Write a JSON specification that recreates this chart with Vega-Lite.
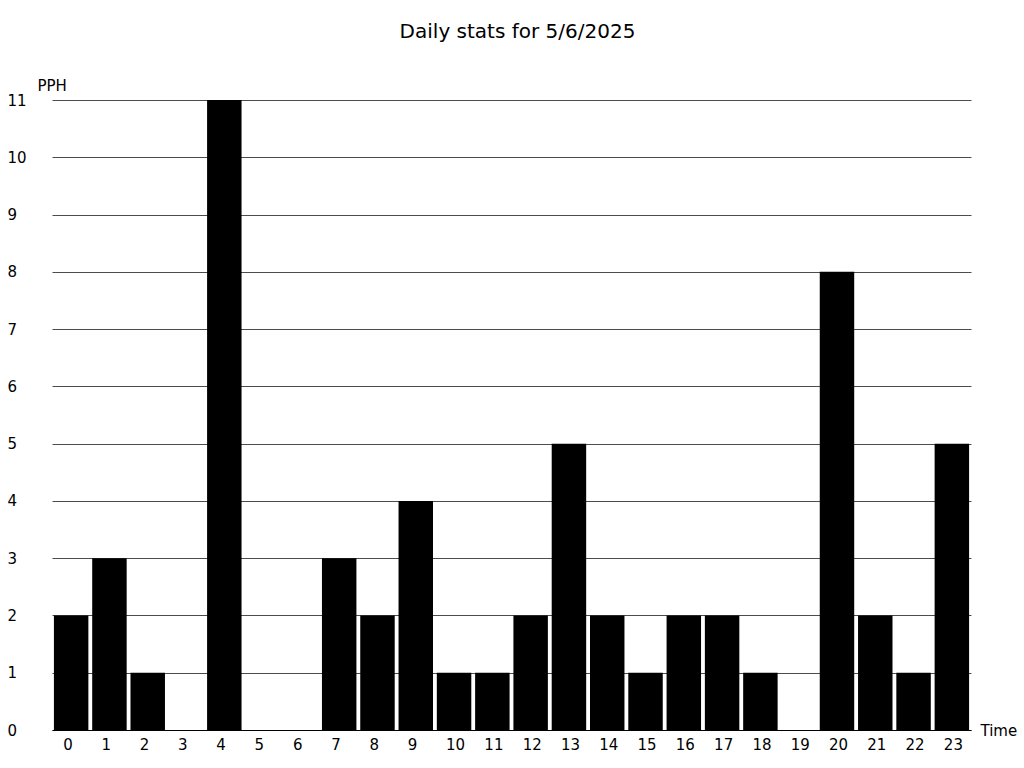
{
  "$schema": "https://vega.github.io/schema/vega-lite/v6.json",
  "width": 919,
  "height": 630,
  "autosize": "none",
  "padding": {"left": 52, "top": 100, "right": 53, "bottom": 38},
  "background": "white",
  "title": {
    "text": "Daily stats for 5/6/2025",
    "font": "DejaVu Sans",
    "fontSize": 20,
    "fontWeight": "normal",
    "color": "black",
    "anchor": "middle",
    "frame": "group",
    "baseline": "middle",
    "offset": 26,
    "dx": 6
  },
  "config": {
    "view": {"stroke": null},
    "font": "DejaVu Sans"
  },
  "data": {
    "values": [
      {"hour": "0", "pph": 2}, {"hour": "1", "pph": 3}, {"hour": "2", "pph": 1},
      {"hour": "3", "pph": 0}, {"hour": "4", "pph": 11}, {"hour": "5", "pph": 0},
      {"hour": "6", "pph": 0}, {"hour": "7", "pph": 3}, {"hour": "8", "pph": 2},
      {"hour": "9", "pph": 4}, {"hour": "10", "pph": 1}, {"hour": "11", "pph": 1},
      {"hour": "12", "pph": 2}, {"hour": "13", "pph": 5}, {"hour": "14", "pph": 2},
      {"hour": "15", "pph": 1}, {"hour": "16", "pph": 2}, {"hour": "17", "pph": 2},
      {"hour": "18", "pph": 1}, {"hour": "19", "pph": 0}, {"hour": "20", "pph": 8},
      {"hour": "21", "pph": 2}, {"hour": "22", "pph": 1}, {"hour": "23", "pph": 5}
    ]
  },
  "mark": {"type": "bar", "color": "black"},
  "encoding": {
    "x": {
      "field": "hour",
      "type": "ordinal",
      "sort": null,
      "scale": {"paddingInner": 0.1, "paddingOuter": 0.05},
      "axis": {
        "title": "Time",
        "titleFont": "DejaVu Sans",
        "titleFontSize": 15,
        "titleFontWeight": "normal",
        "titleColor": "black",
        "titleAngle": 0,
        "titleAlign": "left",
        "titleBaseline": "middle",
        "titleX": 928,
        "titleY": 0,
        "labelAngle": 0,
        "labelAlign": "left",
        "labelOffset": -8,
        "labelFont": "DejaVu Sans",
        "labelFontSize": 15,
        "labelColor": "black",
        "labelPadding": 7,
        "ticks": false,
        "domainColor": "black",
        "domainWidth": 1,
        "grid": false
      }
    },
    "y": {
      "field": "pph",
      "type": "quantitative",
      "scale": {"domain": [0, 11], "nice": false},
      "axis": {
        "title": "PPH",
        "titleFont": "DejaVu Sans",
        "titleFontSize": 15,
        "titleFontWeight": "normal",
        "titleColor": "black",
        "titleAngle": 0,
        "titleAlign": "left",
        "titleBaseline": "middle",
        "titleX": -15,
        "titleY": -15,
        "values": [0, 1, 2, 3, 4, 5, 6, 7, 8, 9, 10, 11],
        "labelFont": "DejaVu Sans",
        "labelFontSize": 15,
        "labelColor": "black",
        "labelAlign": "left",
        "labelPadding": 45,
        "ticks": false,
        "domain": false,
        "grid": true,
        "gridColor": "black",
        "gridOpacity": 0.7,
        "gridWidth": 1
      }
    }
  }
}
